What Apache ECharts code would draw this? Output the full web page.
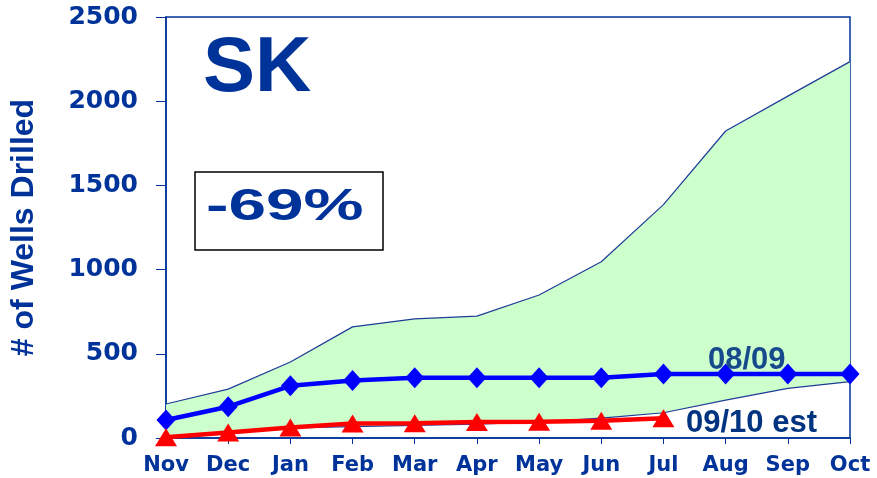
<!DOCTYPE html>
<html>
<head>
<meta charset="utf-8">
<script src="https://cdn.jsdelivr.net/npm/echarts@6/dist/echarts.min.js"></script>
<style>
  html, body { margin: 0; padding: 0; background: #fff; }
  #chart { width: 877px; height: 478px; }
</style>
</head>
<body>
<div id="chart"></div>
<script>
var months = ['Nov', 'Dec', 'Jan', 'Feb', 'Mar', 'Apr', 'May', 'Jun', 'Jul', 'Aug', 'Sep', 'Oct']
var yTicks = [0, 500, 1000, 1500, 2000, 2500]

// historical range band
var bandLow = [5, 30, 60, 68, 75, 82, 95, 118, 150, 225, 295, 335]
var bandHigh = [202, 290, 451, 660, 707, 724, 849, 1047, 1386, 1823, 2030, 2235]

var wells0809 = [107, 186, 310, 342, 358, 358, 358, 358, 380, 380, 380, 380]
var wells0910 = [5, 32, 62, 86, 88, 95, 97, 103, 118]

var navy = '#003399'

const chart = echarts.init(document.getElementById('chart'), null, { renderer: 'canvas' })

const bandWidth = bandHigh.map(function(v, i) { return v - bandLow[i] })

chart.setOption({
  animation: false,
  grid: { left: 163, right: 27, top: 17, bottom: 40, show: true, borderColor: navy, borderWidth: 1.5 },
  xAxis: {
    type: 'category',
    data: months,
    boundaryGap: false,
    axisLine: { lineStyle: { color: navy, width: 1.5 } },
    axisTick: { show: true, interval: 0, length: 6, lineStyle: { color: navy } },
    axisLabel: { interval: 0, hideOverlap: false, color: navy, fontWeight: 'bold', fontSize: 21, fontFamily: 'DejaVu Sans', margin: 17 },
    splitLine: { show: false }
  },
  yAxis: {
    type: 'value',
    min: yTicks[0],
    max: yTicks[yTicks.length - 1],
    interval: 500,
    name: '# of Wells Drilled',
    nameLocation: 'middle',
    nameGap: 126,
    nameTextStyle: { color: navy, fontWeight: 'bold', fontSize: 32, fontFamily: 'Liberation Sans' },
    axisLine: { show: true, lineStyle: { color: navy, width: 1.5 } },
    axisTick: { show: true, length: 10, lineStyle: { color: navy } },
    axisLabel: {
      color: navy, fontWeight: 'bold', fontSize: 25, fontFamily: 'DejaVu Sans', margin: 28,
      formatter: function(v) { return String(v) }
    },
    splitLine: { show: false }
  },
  series: [
    {
      name: 'low',
      type: 'line',
      stack: 'band',
      data: bandLow,
      symbol: 'none',
      lineStyle: { color: '#1f3c99', width: 1.2 },
      z: 1
    },
    {
      name: 'range',
      type: 'line',
      stack: 'band',
      data: bandWidth,
      symbol: 'none',
      lineStyle: { color: '#1f3c99', width: 1.2 },
      areaStyle: { color: '#ccffcc', opacity: 1 },
      z: 1
    },
    {
      name: '08/09',
      type: 'line',
      data: wells0809,
      symbol: 'diamond',
      symbolSize: [19, 21],
      itemStyle: { color: '#0000ff' },
      lineStyle: { color: '#0000ff', width: 4.5 },
      z: 3
    },
    {
      name: '09/10 est',
      type: 'line',
      data: wells0910,
      symbol: 'triangle',
      symbolSize: [22, 18],
      itemStyle: { color: '#ff0000' },
      lineStyle: { color: '#ff0000', width: 4.5 },
      z: 4
    }
  ],
  graphic: [
    { type: 'text', x: 203, y: 30, z: 10, style: { text: 'SK', fill: navy, font: 'bold 78px "Liberation Sans"' } },
    { type: 'rect', z: 10, shape: { x: 195, y: 172, width: 188, height: 78 }, style: { fill: '#fff', stroke: '#000', lineWidth: 1.5 } },
    { type: 'text', x: 206, y: 185, z: 11, scaleX: 1.5, style: { text: '-69%', fill: navy, font: 'bold 45px "Liberation Sans"' } },
    { type: 'text', x: 708, y: 345, z: 10, style: { text: '08/09', fill: '#174a8c', font: 'bold 31px "Liberation Sans"' } },
    { type: 'text', x: 686, y: 408, z: 10, style: { text: '09/10 est', fill: '#003380', font: 'bold 31px "Liberation Sans"' } }
  ]
})
</script>
</body>
</html>
